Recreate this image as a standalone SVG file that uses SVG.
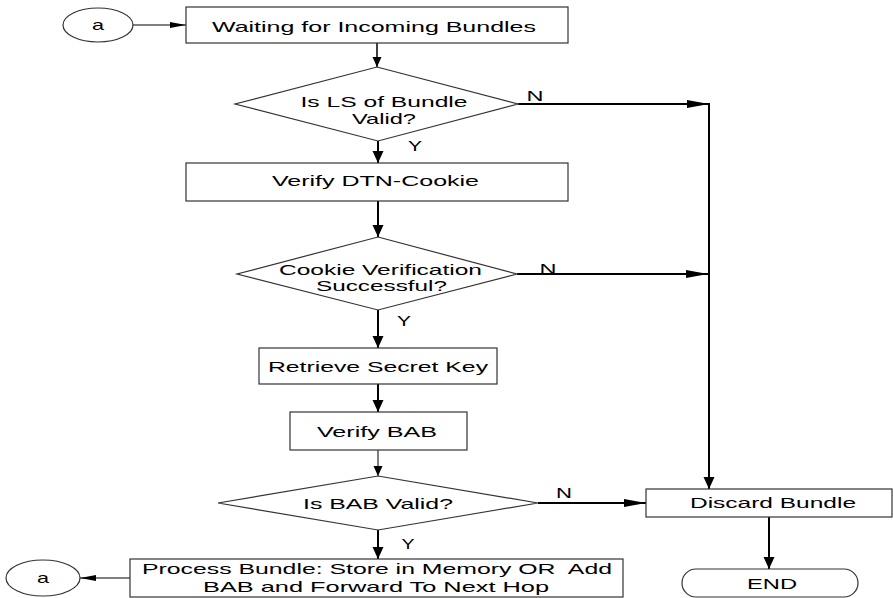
<svg xmlns="http://www.w3.org/2000/svg" width="893" height="598" viewBox="0 0 893 598">
<defs>
<style>
.box{fill:#fff;stroke:#333;stroke-width:1.2}
.t{font-family:"Liberation Sans",Arial,sans-serif;font-size:15px;fill:#000;text-anchor:middle;white-space:pre}
.c1{stroke:#000;stroke-width:1;fill:none}
.c15{stroke:#000;stroke-width:1.5;fill:none}
.c2{stroke:#000;stroke-width:2;fill:none}
</style>
<marker id="ah" markerUnits="userSpaceOnUse" markerWidth="12" markerHeight="12" refX="12" refY="5.5" orient="auto"><path d="M0,0 L12,5.5 L0,11 z" fill="#000"/></marker>
<marker id="ahs" markerUnits="userSpaceOnUse" markerWidth="11" markerHeight="10" refX="10" refY="4.5" orient="auto"><path d="M0,0 L10,4.5 L0,9 z" fill="#000"/></marker>
<marker id="ahl" markerUnits="userSpaceOnUse" markerWidth="23" markerHeight="9" refX="22" refY="4" orient="auto"><path d="M0,0 L22,4 L0,8 z" fill="#000"/></marker>
<marker id="aht" markerUnits="userSpaceOnUse" markerWidth="17" markerHeight="7" refX="16" refY="3" orient="auto"><path d="M0,0 L16,3 L0,6 z" fill="#000"/></marker>
</defs>
<rect width="893" height="598" fill="#fff"/>
<g id="connectors">
<line class="c1" x1="133" y1="25" x2="186" y2="25" marker-end="url(#aht)"/>
<line class="c15" x1="377" y1="43" x2="377" y2="67" marker-end="url(#ahs)"/>
<line class="c2" x1="518" y1="104" x2="709" y2="104" marker-end="url(#ahl)"/>
<line class="c2" x1="709" y1="103" x2="709" y2="489" marker-end="url(#ah)"/>
<line class="c2" x1="378" y1="141" x2="378" y2="163" marker-end="url(#ah)"/>
<line class="c2" x1="378" y1="201" x2="378" y2="237" marker-end="url(#ah)"/>
<line class="c2" x1="517" y1="274" x2="708" y2="274" marker-end="url(#ahl)"/>
<line class="c2" x1="378" y1="310" x2="378" y2="348" marker-end="url(#ah)"/>
<line class="c2" x1="378" y1="384" x2="378" y2="412" marker-end="url(#ah)"/>
<line class="c1" x1="378" y1="450" x2="378" y2="476" marker-end="url(#ahs)"/>
<line class="c2" x1="538" y1="503" x2="646" y2="503" marker-end="url(#ahl)"/>
<line class="c2" x1="378" y1="530" x2="378" y2="559" marker-end="url(#ah)"/>
<line class="c2" x1="769" y1="517" x2="769" y2="569" marker-end="url(#ah)"/>
<line class="c1" x1="130" y1="578" x2="80" y2="578" marker-end="url(#aht)"/>
<text class="t" x="535" y="101" textLength="17" lengthAdjust="spacingAndGlyphs">N</text>
<text class="t" x="415" y="151" textLength="14" lengthAdjust="spacingAndGlyphs">Y</text>
<text class="t" x="548" y="274" textLength="17" lengthAdjust="spacingAndGlyphs">N</text>
<text class="t" x="404" y="326" textLength="14" lengthAdjust="spacingAndGlyphs">Y</text>
<text class="t" x="564" y="498" textLength="16" lengthAdjust="spacingAndGlyphs">N</text>
<text class="t" x="408" y="549" textLength="13" lengthAdjust="spacingAndGlyphs">Y</text>
</g>
<g id="start-a">
<ellipse class="box" cx="98" cy="25" rx="35" ry="17"/>
<text class="t" x="98" y="30" textLength="12" lengthAdjust="spacingAndGlyphs">a</text>
</g>
<g id="waiting">
<rect class="box" x="186" y="7" width="382" height="36"/>
<text class="t" x="374" y="32" textLength="324" lengthAdjust="spacingAndGlyphs">Waiting for Incoming Bundles</text>
</g>
<g id="ls-valid">
<polygon class="box" points="377,67 518,104 378,141 235,104"/>
<text class="t" x="384" y="107" textLength="167" lengthAdjust="spacingAndGlyphs">Is LS of Bundle</text>
<text class="t" x="384" y="124" textLength="64" lengthAdjust="spacingAndGlyphs">Valid?</text>
</g>
<g id="verify-cookie">
<rect class="box" x="186" y="163" width="382" height="38"/>
<text class="t" x="375.5" y="186" textLength="207" lengthAdjust="spacingAndGlyphs">Verify DTN-Cookie</text>
</g>
<g id="cookie-ok">
<polygon class="box" points="378,237 517,274 378,310 237,274"/>
<text class="t" x="380.5" y="275" textLength="203" lengthAdjust="spacingAndGlyphs">Cookie Verification</text>
<text class="t" x="381.5" y="291" textLength="131" lengthAdjust="spacingAndGlyphs">Successful?</text>
</g>
<g id="retrieve-key">
<rect class="box" x="259" y="348" width="238" height="36"/>
<text class="t" x="378" y="372" textLength="220" lengthAdjust="spacingAndGlyphs">Retrieve Secret Key</text>
</g>
<g id="verify-bab">
<rect class="box" x="290" y="412" width="177" height="38"/>
<text class="t" x="377" y="437" textLength="120" lengthAdjust="spacingAndGlyphs">Verify BAB</text>
</g>
<g id="bab-valid">
<polygon class="box" points="378,476 538,503 378,530 218,503"/>
<text class="t" x="378" y="509" textLength="150" lengthAdjust="spacingAndGlyphs">Is BAB Valid?</text>
</g>
<g id="process">
<rect class="box" x="130" y="559" width="493" height="38"/>
<text class="t" x="377" y="574" textLength="470" lengthAdjust="spacingAndGlyphs">Process Bundle: Store in Memory OR  Add</text>
<text class="t" x="376" y="592" textLength="346" lengthAdjust="spacingAndGlyphs">BAB and Forward To Next Hop</text>
</g>
<g id="end-a">
<ellipse class="box" cx="43" cy="578" rx="37" ry="18"/>
<text class="t" x="43" y="583" textLength="12" lengthAdjust="spacingAndGlyphs">a</text>
</g>
<g id="discard">
<rect class="box" x="646" y="489" width="246" height="28"/>
<text class="t" x="773" y="508" textLength="166" lengthAdjust="spacingAndGlyphs">Discard Bundle</text>
</g>
<g id="end">
<rect class="box" x="682" y="569" width="176" height="28" rx="14" ry="14"/>
<text class="t" x="772" y="589" textLength="50" lengthAdjust="spacingAndGlyphs">END</text>
</g>
</svg>
